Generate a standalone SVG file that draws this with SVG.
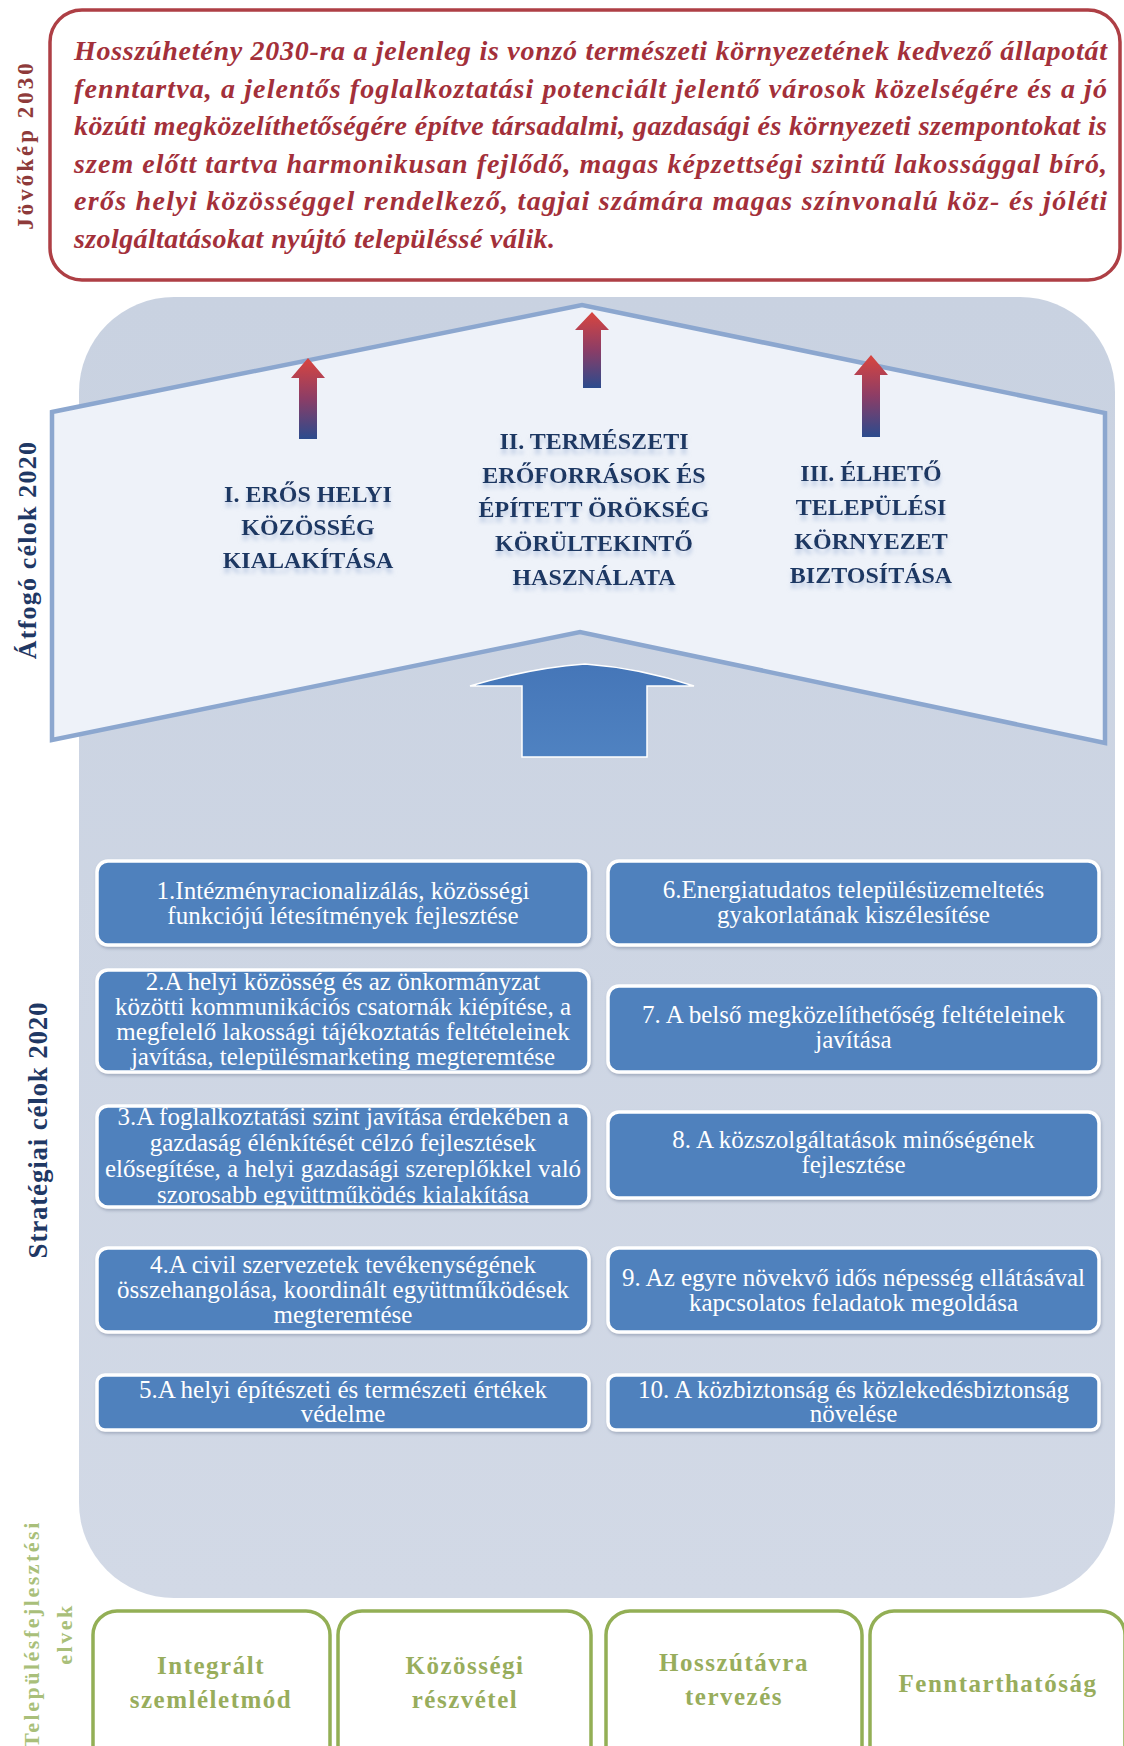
<svg xmlns="http://www.w3.org/2000/svg" width="1124" height="1746" viewBox="0 0 1124 1746">
<style>
  .vision { font-family: "Liberation Serif", serif; font-weight: bold; font-style: italic; font-size: 28px; fill: #A3303A; }
  .side { font-family: "Liberation Serif", serif; font-weight: bold; text-anchor: middle; }
  .goal { font-family: "Liberation Serif", serif; font-weight: bold; font-size: 24px; fill: #1F3864; text-anchor: middle; }
  .sbox { fill: #4F81BD; stroke: #FFFFFF; stroke-width: 3.5; }
  .stxt { font-family: "Liberation Serif", serif; font-size: 25px; fill: #FFFFFF; text-anchor: middle; }
  .gbox { fill: #FFFFFF; stroke: #93AF55; stroke-width: 3.5; }
  .gtxt { font-family: "Liberation Serif", serif; font-weight: bold; font-size: 25px; fill: #98AD5C; text-anchor: middle; letter-spacing: 1.5px; }
</style>
<defs>
  <linearGradient id="bgGrad" x1="0" y1="0" x2="0" y2="1">
    <stop offset="0" stop-color="#C9D2E1"/>
    <stop offset="1" stop-color="#D2D9E6"/>
  </linearGradient>
  <linearGradient id="redBlue" x1="0" y1="0" x2="0" y2="1">
    <stop offset="0" stop-color="#D9453F"/>
    <stop offset="0.5" stop-color="#8C3D66"/>
    <stop offset="1" stop-color="#2B4B8D"/>
  </linearGradient>
  <linearGradient id="bigArrowGrad" x1="0" y1="0" x2="0" y2="1">
    <stop offset="0" stop-color="#4576B8"/>
    <stop offset="1" stop-color="#4F82C1"/>
  </linearGradient>
  <filter id="shadow" x="-5%" y="-10%" width="110%" height="130%">
    <feDropShadow dx="1" dy="2" stdDeviation="1.5" flood-color="#6E7C94" flood-opacity="0.45"/>
  </filter>
  <filter id="refl" x="-10%" y="-20%" width="120%" height="160%">
    <feOffset in="SourceAlpha" dx="0" dy="5" result="o"/>
    <feGaussianBlur in="o" stdDeviation="2" result="b"/>
    <feFlood flood-color="#A9BCDB" flood-opacity="0.7"/>
    <feComposite in2="b" operator="in" result="g"/>
    <feMerge><feMergeNode in="g"/><feMergeNode in="SourceGraphic"/></feMerge>
  </filter>
</defs>

<rect width="1124" height="1746" fill="#FFFFFF"/>

<!-- Vision 2030 -->
<g id="vision">
  <rect x="50" y="10" width="1070" height="270" rx="32" fill="#FFFFFF" stroke="#AE3F45" stroke-width="3.5"/>
  <text class="vision" x="74" y="60" textLength="1033" lengthAdjust="spacing">Hosszúhetény 2030-ra a jelenleg is vonzó természeti környezetének kedvező állapotát</text>
  <text class="vision" x="74" y="97.6" textLength="1033" lengthAdjust="spacing">fenntartva, a jelentős foglalkoztatási potenciált jelentő városok közelségére és a jó</text>
  <text class="vision" x="74" y="135.2" textLength="1033" lengthAdjust="spacing">közúti megközelíthetőségére építve társadalmi, gazdasági és környezeti szempontokat is</text>
  <text class="vision" x="74" y="172.8" textLength="1033" lengthAdjust="spacing">szem előtt tartva harmonikusan fejlődő, magas képzettségi szintű lakossággal bíró,</text>
  <text class="vision" x="74" y="210.4" textLength="1033" lengthAdjust="spacing">erős helyi közösséggel rendelkező, tagjai számára magas színvonalú köz- és jóléti</text>
  <text class="vision" x="74" y="248" textLength="481" lengthAdjust="spacing">szolgáltatásokat nyújtó településsé válik.</text>
</g>
<g id="label-vision">
  <text class="side" transform="translate(33,145) rotate(-90)" font-size="23" fill="#8E3A3A" letter-spacing="3">Jövőkép 2030</text>
</g>

<!-- Background frame -->
<g id="frame">
  <rect x="79" y="297" width="1036" height="1301" rx="95" fill="url(#bgGrad)"/>
</g>

<!-- Overarching goals -->
<g id="overarching">
  <path d="M52,412 L582,305 L1105,413 L1105,743 L580,632 L52,740 Z" fill="#EEF2F9" stroke="#8CA7CF" stroke-width="4.5" stroke-linejoin="miter"/>
</g>

<g id="connectors">
  <path d="M308,358 L325,378 L317,378 L317,439 L299,439 L299,378 L291,378 Z" fill="url(#redBlue)"/>
  <path d="M592,312 L609,330 L601,330 L601,388 L583,388 L583,330 L575,330 Z" fill="url(#redBlue)"/>
  <path d="M871,355 L888,375 L880,375 L880,437 L862,437 L862,375 L854,375 Z" fill="url(#redBlue)"/>
  <path d="M470,686 Q530,668 585,664 Q640,668 694,686 L647,686 L647,757 L522,757 L522,686 Z" fill="url(#bigArrowGrad)" stroke="#FFFFFF" stroke-width="1.5"/>
</g>

<g id="goal-1" filter="url(#refl)">
  <text class="goal" x="308" y="502">I. ERŐS HELYI</text>
  <text class="goal" x="308" y="535">KÖZÖSSÉG</text>
  <text class="goal" x="308" y="568">KIALAKÍTÁSA</text>
</g>
<g id="goal-2" filter="url(#refl)">
  <text class="goal" x="594" y="449">II. TERMÉSZETI</text>
  <text class="goal" x="594" y="483">ERŐFORRÁSOK ÉS</text>
  <text class="goal" x="594" y="517">ÉPÍTETT ÖRÖKSÉG</text>
  <text class="goal" x="594" y="551">KÖRÜLTEKINTŐ</text>
  <text class="goal" x="594" y="585">HASZNÁLATA</text>
</g>
<g id="goal-3" filter="url(#refl)">
  <text class="goal" x="871" y="481">III. ÉLHETŐ</text>
  <text class="goal" x="871" y="515">TELEPÜLÉSI</text>
  <text class="goal" x="871" y="549">KÖRNYEZET</text>
  <text class="goal" x="871" y="583">BIZTOSÍTÁSA</text>
</g>
<g id="label-overarching">
  <text class="side" transform="translate(36,550) rotate(-90)" font-size="26" fill="#1F3864" letter-spacing="1.2">Átfogó célok 2020</text>
</g>

<!-- Strategic goals -->
<g id="label-strategic">
  <text class="side" transform="translate(47,1130) rotate(-90)" font-size="27" fill="#1F3864" letter-spacing="0.8">Stratégiai célok 2020</text>
</g>

<g id="s1">
  <rect class="sbox" x="97" y="861" width="492" height="84" rx="11" filter="url(#shadow)"/>
  <text class="stxt" x="343" y="899">1.Intézményracionalizálás, közösségi</text>
  <text class="stxt" x="343" y="924">funkciójú létesítmények fejlesztése</text>
</g>
<g id="s2">
  <rect class="sbox" x="97" y="970" width="492" height="102" rx="11" filter="url(#shadow)"/>
  <text class="stxt" x="343" y="990">2.A helyi közösség és az önkormányzat</text>
  <text class="stxt" x="343" y="1015">közötti kommunikációs csatornák kiépítése, a</text>
  <text class="stxt" x="343" y="1040">megfelelő lakossági tájékoztatás feltételeinek</text>
  <text class="stxt" x="343" y="1065">javítása, településmarketing megteremtése</text>
</g>
<g id="s3">
  <rect class="sbox" x="97" y="1106" width="492" height="101" rx="11" filter="url(#shadow)"/>
  <text class="stxt" x="343" y="1125">3.A foglalkoztatási szint javítása érdekében a</text>
  <text class="stxt" x="343" y="1151">gazdaság élénkítését célzó fejlesztések</text>
  <text class="stxt" x="343" y="1177">elősegítése, a helyi gazdasági szereplőkkel való</text>
  <text class="stxt" x="343" y="1203">szorosabb együttműködés kialakítása</text>
</g>
<g id="s4">
  <rect class="sbox" x="97" y="1248" width="492" height="84" rx="11" filter="url(#shadow)"/>
  <text class="stxt" x="343" y="1273">4.A civil szervezetek tevékenységének</text>
  <text class="stxt" x="343" y="1298">összehangolása, koordinált együttműködések</text>
  <text class="stxt" x="343" y="1323">megteremtése</text>
</g>
<g id="s5">
  <rect class="sbox" x="97" y="1375" width="492" height="55" rx="8" filter="url(#shadow)"/>
  <text class="stxt" x="343" y="1398">5.A helyi építészeti és természeti értékek</text>
  <text class="stxt" x="343" y="1422">védelme</text>
</g>
<g id="s6">
  <rect class="sbox" x="608" y="861" width="491" height="84" rx="11" filter="url(#shadow)"/>
  <text class="stxt" x="853.5" y="898">6.Energiatudatos településüzemeltetés</text>
  <text class="stxt" x="853.5" y="923">gyakorlatának kiszélesítése</text>
</g>
<g id="s7">
  <rect class="sbox" x="608" y="986" width="491" height="86" rx="11" filter="url(#shadow)"/>
  <text class="stxt" x="853.5" y="1023">7. A belső megközelíthetőség feltételeinek</text>
  <text class="stxt" x="853.5" y="1048">javítása</text>
</g>
<g id="s8">
  <rect class="sbox" x="608" y="1112" width="491" height="86" rx="11" filter="url(#shadow)"/>
  <text class="stxt" x="853.5" y="1148">8. A közszolgáltatások minőségének</text>
  <text class="stxt" x="853.5" y="1173">fejlesztése</text>
</g>
<g id="s9">
  <rect class="sbox" x="608" y="1248" width="491" height="84" rx="11" filter="url(#shadow)"/>
  <text class="stxt" x="853.5" y="1286">9. Az egyre növekvő idős népesség ellátásával</text>
  <text class="stxt" x="853.5" y="1311">kapcsolatos feladatok megoldása</text>
</g>
<g id="s10">
  <rect class="sbox" x="608" y="1375" width="491" height="55" rx="8" filter="url(#shadow)"/>
  <text class="stxt" x="853.5" y="1398">10. A közbiztonság és közlekedésbiztonság</text>
  <text class="stxt" x="853.5" y="1422">növelése</text>
</g>

<!-- Principles -->
<g id="label-principles">
  <text class="side" transform="translate(39,1634) rotate(-90)" font-size="22" fill="#A9BF7A" letter-spacing="2.5">Településfejlesztési</text>
  <text class="side" transform="translate(72,1634) rotate(-90)" font-size="22" fill="#A9BF7A" letter-spacing="2.5">elvek</text>
</g>
<g id="p1">
  <rect class="gbox" x="93" y="1611" width="237" height="170" rx="24"/>
  <text class="gtxt" x="211" y="1674">Integrált</text>
  <text class="gtxt" x="211" y="1708">szemléletmód</text>
</g>
<g id="p2">
  <rect class="gbox" x="338" y="1611" width="253" height="170" rx="24"/>
  <text class="gtxt" x="465" y="1674">Közösségi</text>
  <text class="gtxt" x="465" y="1708">részvétel</text>
</g>
<g id="p3">
  <rect class="gbox" x="606" y="1611" width="256" height="170" rx="24"/>
  <text class="gtxt" x="734" y="1671">Hosszútávra</text>
  <text class="gtxt" x="734" y="1705">tervezés</text>
</g>
<g id="p4">
  <rect class="gbox" x="870" y="1611" width="255" height="170" rx="24"/>
  <text class="gtxt" x="998" y="1692">Fenntarthatóság</text>
</g>
</svg>
